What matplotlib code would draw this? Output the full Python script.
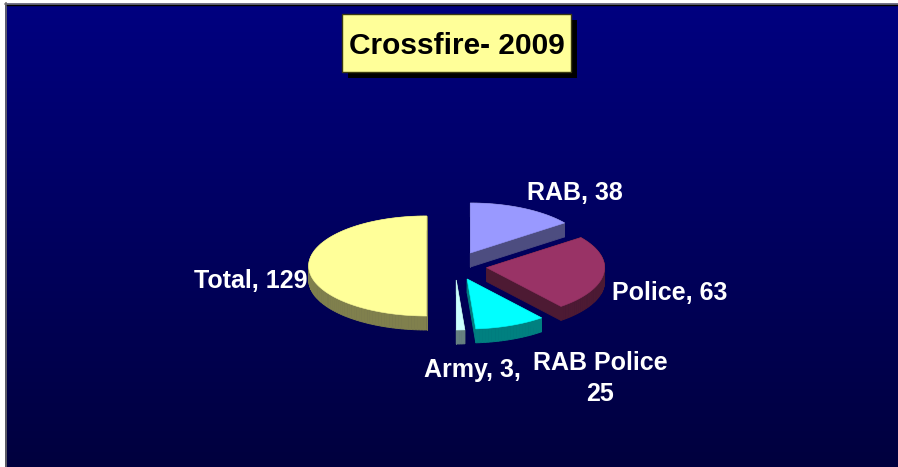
import numpy as np
import matplotlib
matplotlib.use("Agg")
import matplotlib.pyplot as plt
from matplotlib.patches import Polygon, Rectangle

# ---- data ----
title = "Crossfire- 2009"
categories = ["RAB", "Police", "RAB Police", "Army", "Total"]
values = [38, 63, 25, 3, 129]
label_texts = ["RAB, 38", "Police, 63", "RAB Police\n25", "Army, 3,", "Total, 129"]

# ---- style ----
top_colors = ["#9999FF", "#993366", "#00FFFF", "#CCFFFF", "#FFFF99"]
side_colors = ["#4D4D80", "#4D1A33", "#008080", "#668080", "#80804D"]
explode = [0.29, 0.27, 0.28, 0.28, 0.24]

W, H = 898, 467
fig = plt.figure(figsize=(W / 100, H / 100), dpi=100, facecolor="white")
ax = fig.add_axes([0, 0, 1, 1])
ax.set_xlim(0, W)
ax.set_ylim(H, 0)
ax.axis("off")

# background gradient
n = 256
top_c = np.array([0, 0, 128]) / 255
bot_c = np.array([0, 0, 62]) / 255
t = np.linspace(0, 1, n)[:, None]
grad = (top_c[None, :] * (1 - t) + bot_c[None, :] * t)[:, None, :]
ax.imshow(grad, extent=[5, W, H, 3], aspect="auto", zorder=0)
ax.plot([5, W], [3.5, 3.5], color="#8C8C8C", lw=1.2, zorder=1)
ax.plot([5.5, 5.5], [3, H], color="#6E6E6E", lw=1.2, zorder=1)
ax.plot([6.5, W], [4.8, 4.8], color="black", lw=1.0, zorder=1)

# pie geometry (pixel space)
cx, cy = 455, 266
rx, ry = 118, 50
depth = 14

total = float(sum(values))
angles = []
a = 90.0
for v in values:
    span = v / total * 360.0
    angles.append((a - span, a))
    a -= span

slices = []
for i, (t1, t2) in enumerate(angles):
    mid = np.deg2rad((t1 + t2) / 2)
    ox = cx + explode[i] * rx * np.cos(mid)
    oy = cy - explode[i] * ry * np.sin(mid)
    th = np.deg2rad(np.linspace(t1, t2, max(4, int((t2 - t1) / 1.5))))
    pts = [(ox, oy)] + [(ox + rx * np.cos(x), oy - ry * np.sin(x)) for x in th]
    slices.append((oy, i, np.array(pts)))

# draw back to front
for oy, i, pts in sorted(slices, key=lambda s: s[0]):
    m = len(pts)
    for k in range(m):
        p0 = pts[k]
        p1 = pts[(k + 1) % m]
        quad = [p0, p1, (p1[0], p1[1] + depth), (p0[0], p0[1] + depth)]
        ax.add_patch(Polygon(quad, closed=True, facecolor=side_colors[i],
                             edgecolor=side_colors[i], lw=0.6, zorder=2))
    ax.add_patch(Polygon(pts, closed=True, facecolor=top_colors[i],
                         edgecolor=top_colors[i], lw=0.4, zorder=3))

# data labels
font = dict(family="Liberation Sans", weight="bold", color="white", fontsize=18)
label_pos = {
    "RAB": (527, 200, "left"),
    "Police": (612, 300, "left"),
    "RAB Police": (600, 401, "center"),
    "Army": (424, 377, "left"),
    "Total": (308, 288, "right"),
}
for cat, txt in zip(categories, label_texts):
    x, y, ha = label_pos[cat]
    ax.text(x, y, txt, ha=ha, va="baseline", multialignment="center",
            linespacing=1.37, zorder=5, **font)

# title box with shadow
bx, by, bw, bh = 342, 14, 229, 58
ax.add_patch(Rectangle((bx + 6, by + 6), bw, bh, facecolor="black",
                       edgecolor="none", zorder=6))
ax.add_patch(Rectangle((bx, by), bw, bh, facecolor="#FFFF99",
                       edgecolor="#3A3A10", lw=1.0, zorder=7))
ax.text(bx + bw / 2, 54, title, ha="center", va="baseline",
        family="Liberation Sans", weight="bold", color="black",
        fontsize=21.5, zorder=8)

fig.savefig("out.png", dpi=100, facecolor="white")
